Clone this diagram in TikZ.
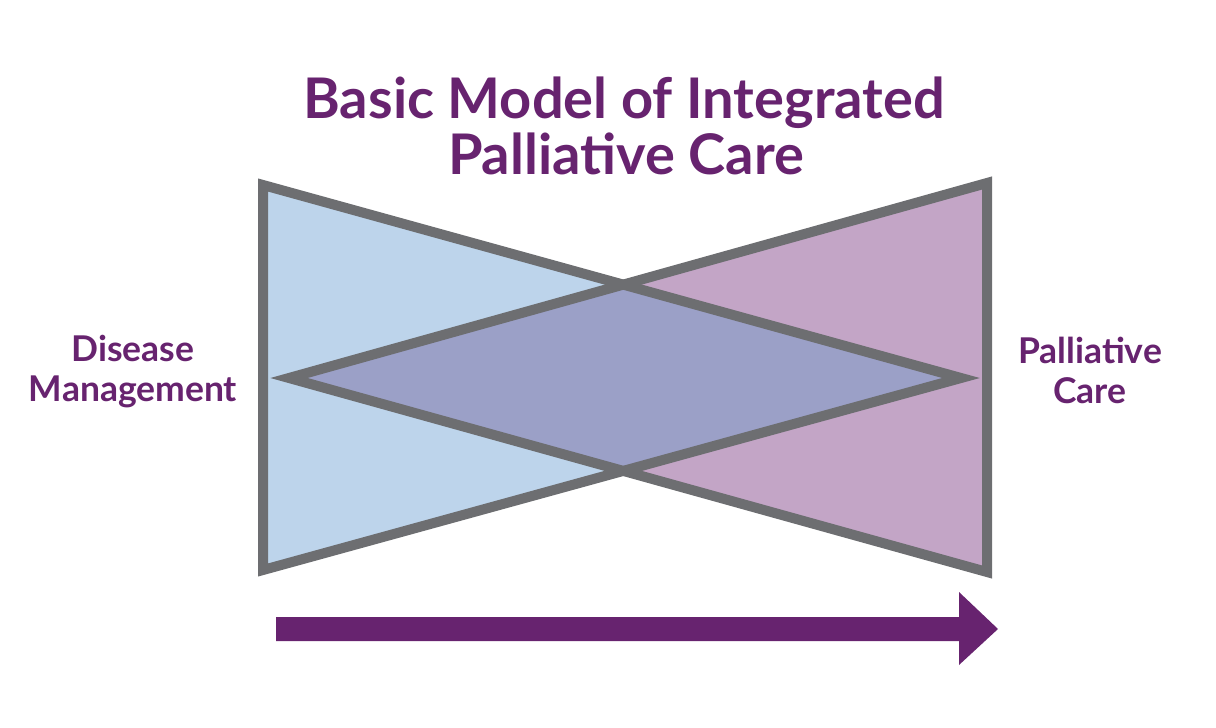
\documentclass[tikz,border=0pt]{standalone}
\usepackage{fontspec}
\setmainfont{Lato}
\definecolor{carepurple}{HTML}{67236F}
\definecolor{edgegray}{HTML}{6D6E71}
\definecolor{diseaseblue}{HTML}{BDD4EB}
\definecolor{palliativemauve}{HTML}{C3A5C6}
\definecolor{overlapviolet}{HTML}{9BA0C7}
\begin{document}
\begin{tikzpicture}[x=1pt,y=-1pt,
	outline/.style={draw=edgegray,line width=10pt,miter limit=10},
	titletext/.style={text=carepurple,anchor=base,inner sep=0pt,font=\bfseries\fontsize{56}{56}\selectfont},
	sidetext/.style={text=carepurple,align=center,inner sep=0pt,font=\bfseries\fontsize{35.5}{40}\selectfont}]
	\useasboundingbox (0,0) rectangle (1216,728);
	% left triangle (disease management)
	\coordinate (DT) at (263,185);
	\coordinate (DB) at (263,570);
	\coordinate (DA) at (961,378);
	% right triangle (palliative care)
	\coordinate (PT) at (987,183);
	\coordinate (PB) at (987,572);
	\coordinate (PA) at (289,378);
	\fill[diseaseblue] (DT) -- (DB) -- (DA) -- cycle;
	\fill[palliativemauve] (PT) -- (PB) -- (PA) -- cycle;
	\begin{scope}
		\clip (DT) -- (DB) -- (DA) -- cycle;
		\fill[overlapviolet] (PT) -- (PB) -- (PA) -- cycle;
	\end{scope}
	\draw[outline] (DT) -- (DB) -- (DA) -- cycle;
	\draw[outline] (PT) -- (PB) -- (PA) -- cycle;
	% arrow
	\fill[carepurple] (276,617) -- (959,617) -- (959,592) -- (998,629) -- (959,665) -- (959,641) -- (276,641) -- cycle;
	% texts
	\node[titletext] (title1) at (624,118) {Basic Model of Integrated};
	\node[titletext] (title2) at (626,174) {Palliative Care};
	\node[sidetext,anchor=north] (disease) at (133,335) {Disease\\Management};
	\node[sidetext,anchor=north] (palliative) at (1090,337) {Palliative\\Care};
\end{tikzpicture}
\end{document}
